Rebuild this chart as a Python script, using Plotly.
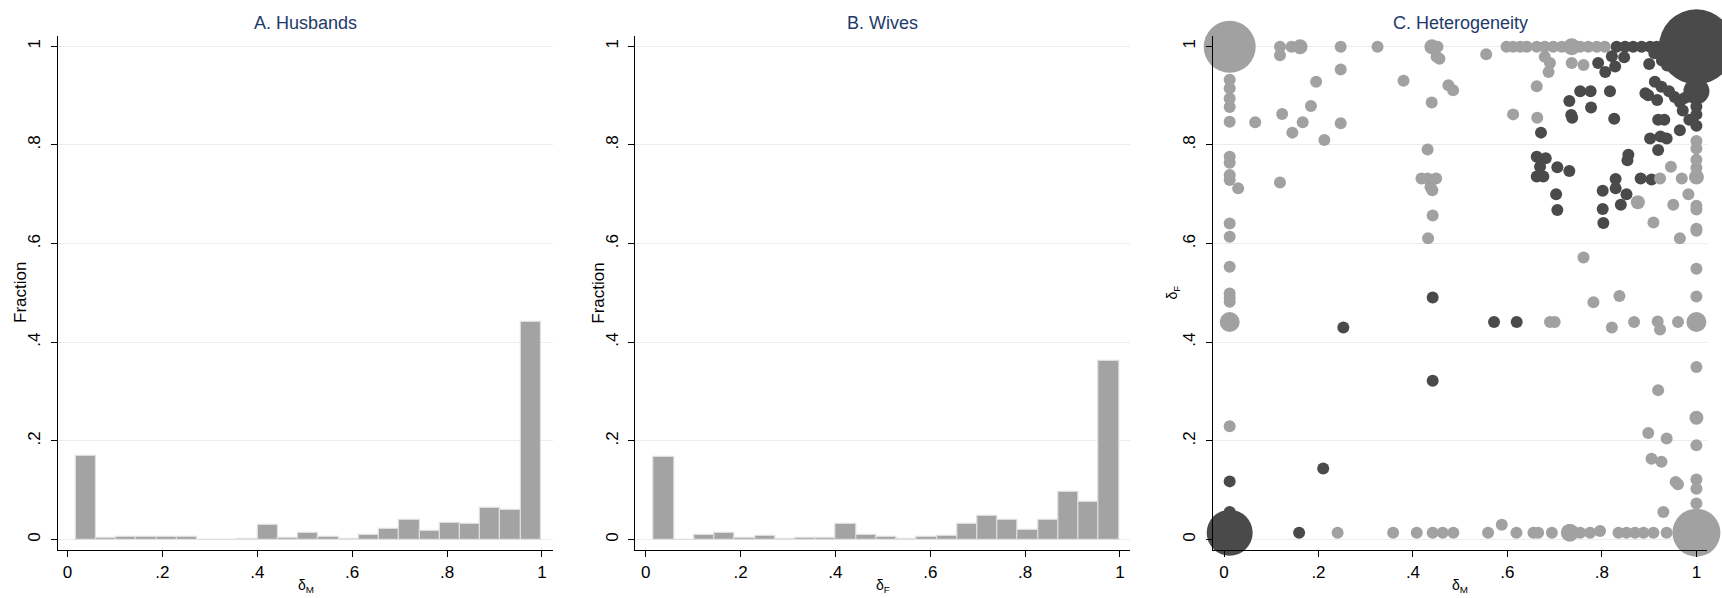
import plotly.graph_objects as go

# ---------------- data ----------------
bin_centers = [0.0383, 0.0810, 0.1236, 0.1663, 0.2089, 0.2516, 0.2942, 0.3369,
               0.3795, 0.4222, 0.4648, 0.5075, 0.5501, 0.5928, 0.6354, 0.6781,
               0.7207, 0.7634, 0.8060, 0.8487, 0.8913, 0.9340, 0.9766]
bin_width = 0.04265

husbands_frac = [0.169, 0.003, 0.006, 0.005, 0.006, 0.006, 0.0, 0.0,
                 0.001, 0.029, 0.004, 0.014, 0.006, 0.002, 0.009, 0.021,
                 0.039, 0.018, 0.034, 0.032, 0.065, 0.061, 0.442]
wives_frac = [0.167, 0.0, 0.0085, 0.014, 0.003, 0.007, 0.001, 0.003,
              0.003, 0.032, 0.009, 0.005, 0.002, 0.006, 0.008, 0.032,
              0.048, 0.039, 0.019, 0.039, 0.097, 0.077, 0.363]

# Panel C: light-gray series (x = delta_M, y = delta_F, marker diameter)
light_x = [0.012, 0.012, 0.012, 0.012, 0.012, 0.012, 0.066, 0.012, 0.012, 0.012,
           0.012, 0.030, 0.012, 0.012, 0.012, 0.012, 0.012, 0.012, 0.012, 0.012,
           0.1185, 0.1185, 0.143, 0.161, 0.247, 0.325, 0.247, 0.195, 0.380, 0.184,
           0.123, 0.1665, 0.1446, 0.247, 0.2124, 0.1185,
           0.440, 0.452, 0.450, 0.456, 0.4396, 0.431, 0.418, 0.431, 0.449, 0.437,
           0.441, 0.4417, 0.432, 0.475, 0.485, 0.555,
           0.598, 0.612, 0.627, 0.641, 0.662, 0.679, 0.697, 0.715, 0.736, 0.754,
           0.771, 0.789, 0.806,
           0.679, 0.690, 0.687, 0.736, 0.761, 0.612, 0.662, 0.663,
           0.761, 0.782, 0.837, 0.821, 0.868, 0.690, 0.700, 0.918, 0.923, 0.961, 1.0,
           0.876, 0.909, 0.923, 0.946, 0.969, 0.951, 0.965, 0.983,
           1.0, 1.0, 1.0, 1.0, 1.0, 1.0, 1.0, 1.0, 1.0, 1.0,
           1.0, 1.0, 1.0, 1.0, 1.0, 1.0, 1.0,
           0.919, 0.898, 0.937, 0.905, 0.926, 0.956, 0.961, 0.930,
           0.2405, 0.358, 0.408, 0.4417, 0.4629, 0.4855, 0.559, 0.588, 0.619, 0.655,
           0.665, 0.694, 0.732, 0.754, 0.775, 0.796, 0.835, 0.852, 0.870, 0.888,
           0.909, 0.937, 1.0]
light_y = [0.999, 0.932, 0.915, 0.894, 0.877, 0.847, 0.846, 0.776, 0.764, 0.739,
           0.729, 0.712, 0.641, 0.614, 0.553, 0.499, 0.490, 0.482, 0.441, 0.230,
           0.999, 0.982, 0.999, 0.999, 0.999, 0.999, 0.953, 0.928, 0.930, 0.879,
           0.863, 0.846, 0.825, 0.844, 0.810, 0.724,
           0.999, 0.999, 0.979, 0.975, 0.886, 0.791, 0.732, 0.732, 0.732, 0.715,
           0.708, 0.657, 0.611, 0.921, 0.911, 0.984,
           0.999, 0.999, 0.999, 0.999, 0.999, 0.999, 0.999, 0.999, 0.999, 0.999,
           0.999, 0.999, 0.999,
           0.979, 0.966, 0.948, 0.966, 0.962, 0.862, 0.919, 0.855,
           0.572, 0.481, 0.494, 0.430, 0.441, 0.441, 0.441, 0.442, 0.426, 0.441, 0.441,
           0.684, 0.643, 0.732, 0.756, 0.732, 0.679, 0.611, 0.700,
           0.808, 0.793, 0.770, 0.754, 0.735, 0.677, 0.669, 0.630, 0.626, 0.549,
           0.493, 0.350, 0.247, 0.191, 0.122, 0.103, 0.073,
           0.303, 0.216, 0.205, 0.164, 0.158, 0.117, 0.112, 0.056,
           0.014, 0.014, 0.014, 0.014, 0.014, 0.014, 0.014, 0.030, 0.014, 0.014,
           0.014, 0.014, 0.014, 0.014, 0.014, 0.0176, 0.014, 0.014, 0.014, 0.014,
           0.014, 0.014, 0.014]
light_size = [52, 12, 12, 12, 12, 12, 12, 12, 12, 12,
              12, 12, 12, 12, 12, 12, 12, 12, 20, 12,
              12, 12, 12, 15, 12, 12, 12, 12, 12, 12,
              12, 12, 12, 12, 12, 12,
              15, 12, 12, 12, 12, 12, 12, 12, 12, 12,
              12, 12, 12, 12, 12, 12,
              12, 12, 12, 12, 12, 12, 12, 12, 17, 12,
              12, 12, 12,
              12, 12, 12, 12, 12, 12, 12, 12,
              12, 12, 12, 12, 12, 12, 12, 12, 12, 12, 20,
              14, 12, 12, 12, 12, 12, 12, 12,
              12, 12, 12, 12, 15, 12, 12, 12, 12, 12,
              12, 12, 14, 12, 12, 12, 12,
              12, 12, 12, 12, 12, 12, 12, 12,
              12, 12, 12, 12, 12, 12, 12, 12, 12, 12,
              12, 12, 18, 12, 12, 12, 12, 12, 12, 12,
              12, 12, 48]

# Panel C: dark series
dark_x = [0.012, 0.012, 0.012, 0.159, 0.210, 0.2526, 0.4417, 0.4417, 0.5716, 0.6195,
          0.671, 0.662, 0.681, 0.669, 0.662, 0.676, 0.7056, 0.731, 0.703, 0.7056,
          0.731, 0.735, 0.737, 0.754, 0.776, 0.777, 0.817, 0.826,
          0.792, 0.807, 0.828, 0.821, 0.847,
          0.831, 0.849, 0.866, 0.884, 0.902, 0.916, 0.930,
          0.900, 0.911, 0.927, 0.938, 0.912, 0.926, 0.892, 0.898, 0.917, 0.942,
          0.919, 0.932, 0.902, 0.924, 0.937, 0.919,
          0.856, 0.854, 0.882, 0.905, 0.829, 0.829, 0.8016, 0.852, 0.840, 0.8016, 0.803,
          0.954, 0.965, 0.975, 0.971, 0.985, 1.0, 1.0, 1.0, 0.965,
          1.0, 1.0]
dark_y = [0.014, 0.056, 0.118, 0.014, 0.144, 0.430, 0.491, 0.322, 0.441, 0.441,
          0.825, 0.776, 0.773, 0.756, 0.736, 0.736, 0.755, 0.747, 0.700, 0.668,
          0.889, 0.861, 0.855, 0.909, 0.909, 0.876, 0.909, 0.853,
          0.966, 0.948, 0.959, 0.980, 0.978,
          0.999, 0.999, 0.999, 0.999, 0.999, 0.999, 0.999,
          0.964, 0.986, 0.971, 0.961, 0.928, 0.918, 0.905, 0.901, 0.891, 0.909,
          0.851, 0.851, 0.813, 0.817, 0.813, 0.790,
          0.780, 0.769, 0.732, 0.730, 0.731, 0.712, 0.707, 0.700, 0.679, 0.670, 0.642,
          0.897, 0.887, 0.895, 0.870, 0.851, 0.878, 0.862, 0.839, 0.830,
          0.909, 0.999]
dark_size = [46, 12, 12, 12, 12, 12, 12, 12, 12, 12,
             12, 12, 12, 12, 12, 12, 12, 12, 12, 12,
             12, 12, 12, 12, 12, 12, 12, 12,
             12, 12, 12, 12, 12,
             12, 12, 12, 12, 12, 12, 12,
             12, 12, 12, 12, 12, 12, 12, 12, 12, 12,
             12, 12, 12, 12, 12, 12,
             12, 12, 12, 12, 12, 12, 12, 12, 12, 12, 12,
             12, 12, 12, 12, 12, 12, 12, 12, 12,
             26, 75]

titles = ["A. Husbands", "B. Wives", "C. Heterogeneity"]
tick_vals = [0, 0.2, 0.4, 0.6, 0.8, 1]
tick_text = ["0", ".2", ".4", ".6", ".8", "1"]

# ---------------- styling ----------------
FONT = "Liberation Sans, Arial, Helvetica, sans-serif"
BAR_FILL = "#a3a3a3"
BAR_LINE = "#dedede"
LIGHT = "#a1a1a1"
DARK = "#4a4a4a"
GRID = "#e6eef0"
TITLE_COL = "#1e3a6a"

W, H = 1722, 598
ML, MR, MT, MB = 58, 15, 36, 48
PW = W - ML - MR
PH = H - MT - MB


def px_to_paper_x(px):
    return (px - ML) / PW


def px_to_paper_y(py):
    return (H - MB - py) / PH


panel_px = [(58, 553), (635.4, 1130.4), (1213, 1707)]
x_ranges = [[-0.0202, 1.0234], [-0.0219, 1.0220], [-0.0233, 1.0224]]
y_range = [-0.0211, 1.0209]

fig = go.Figure()

fig.add_trace(go.Bar(x=bin_centers, y=husbands_frac, width=bin_width,
                     marker=dict(color=BAR_FILL, line=dict(color=BAR_LINE, width=1.2)),
                     xaxis="x", yaxis="y", showlegend=False))
fig.add_trace(go.Bar(x=bin_centers, y=wives_frac, width=bin_width,
                     marker=dict(color=BAR_FILL, line=dict(color=BAR_LINE, width=1.2)),
                     xaxis="x2", yaxis="y2", showlegend=False))
fig.add_trace(go.Scatter(x=dark_x, y=dark_y, mode="markers", cliponaxis=False,
                         marker=dict(color=DARK, size=dark_size, opacity=1,
                                     line=dict(width=0)),
                         xaxis="x3", yaxis="y3", showlegend=False))
fig.add_trace(go.Scatter(x=light_x, y=light_y, mode="markers", cliponaxis=False,
                         marker=dict(color=LIGHT, size=light_size, opacity=1,
                                     line=dict(width=0)),
                         xaxis="x3", yaxis="y3", showlegend=False))

layout = dict(
    width=W, height=H,
    margin=dict(l=ML, r=MR, t=MT, b=MB, pad=0),
    paper_bgcolor="white", plot_bgcolor="white",
    font=dict(family=FONT, size=17, color="#000000"),
    bargap=0, showlegend=False,
)

for i in range(3):
    xa = "xaxis" if i == 0 else f"xaxis{i+1}"
    ya = "yaxis" if i == 0 else f"yaxis{i+1}"
    anchor_y = "y" if i == 0 else f"y{i+1}"
    anchor_x = "x" if i == 0 else f"x{i+1}"
    d0 = px_to_paper_x(panel_px[i][0])
    d1 = min(1.0, px_to_paper_x(panel_px[i][1]))
    layout[xa] = dict(domain=[d0, d1], anchor=anchor_y, range=x_ranges[i],
                      tickvals=tick_vals, ticktext=tick_text, showgrid=False,
                      zeroline=False, showline=True, linecolor="#000000", linewidth=1.2,
                      ticks="outside", ticklen=6, tickcolor="#000000", tickwidth=1.2,
                      tickfont=dict(size=17, family=FONT))
    layout[ya] = dict(domain=[0, 1], anchor=anchor_x, range=y_range,
                      tickvals=tick_vals, ticktext=tick_text, showgrid=True,
                      gridcolor=GRID, gridwidth=1.2,
                      zeroline=False, showline=True, linecolor="#000000", linewidth=1.2,
                      ticks="outside", ticklen=6, tickcolor="#000000", tickwidth=1.2,
                      tickangle=-90, tickfont=dict(size=17, family=FONT),
                      ticklabelstandoff=4)

fig.update_layout(**layout)

annotations = []
centers = [(a + b) / 2 for a, b in panel_px]
for i, t in enumerate(titles):
    annotations.append(dict(text=t, x=px_to_paper_x(centers[i]), y=px_to_paper_y(23),
                            xref="paper", yref="paper", showarrow=False,
                            xanchor="center", yanchor="middle",
                            font=dict(size=18, color=TITLE_COL, family=FONT)))

x_titles = ["δ<sub>M</sub>", "δ<sub>F</sub>", "δ<sub>M</sub>"]
for i, t in enumerate(x_titles):
    annotations.append(dict(text=t, x=px_to_paper_x(centers[i]), y=px_to_paper_y(586),
                            xref="paper", yref="paper", showarrow=False,
                            xanchor="center", yanchor="middle",
                            font=dict(size=14, color="#000000", family=FONT)))

y_titles = [("Fraction", 20, 17), ("Fraction", 597.7, 17), ("δ<sub>F</sub>", 1172.6, 14)]
for t, px, fs in y_titles:
    annotations.append(dict(text=t, x=px_to_paper_x(px), y=px_to_paper_y(293),
                            xref="paper", yref="paper", showarrow=False,
                            xanchor="center", yanchor="middle", textangle=-90,
                            font=dict(size=fs, color="#000000", family=FONT)))

fig.update_layout(annotations=annotations)

fig.write_html(
    "out.html",
    config={"displayModeBar": False},
    post_script="document.body.style.margin='0';document.body.style.overflow='hidden';",
)
